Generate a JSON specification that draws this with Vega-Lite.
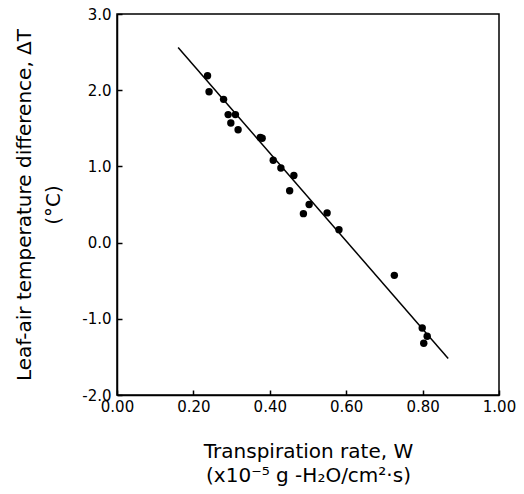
{
  "$schema": "https://vega.github.io/schema/vega-lite/v6.json",
  "autosize": {"type": "none"},
  "padding": {"left": 117, "top": 14, "right": 25, "bottom": 99},
  "width": 382,
  "height": 381,
  "background": "white",
  "config": {
    "view": {"stroke": "black", "strokeWidth": 1.5},
    "font": "DejaVu Sans",
    "axis": {
      "domainColor": "black",
      "domainWidth": 1.5,
      "tickColor": "black",
      "tickSize": -5,
      "tickWidth": 1.5,
      "grid": false,
      "labelFont": "DejaVu Sans",
      "labelFontSize": 15,
      "labelColor": "black",
      "titleFont": "DejaVu Sans",
      "titleFontSize": 20,
      "titleFontWeight": "normal",
      "titleColor": "black"
    }
  },
  "datasets": {
    "pts": [
      {"W": 0.237, "dT": 2.19},
      {"W": 0.241, "dT": 1.98},
      {"W": 0.279, "dT": 1.88},
      {"W": 0.291, "dT": 1.68},
      {"W": 0.310, "dT": 1.68},
      {"W": 0.298, "dT": 1.57},
      {"W": 0.317, "dT": 1.48},
      {"W": 0.375, "dT": 1.38},
      {"W": 0.380, "dT": 1.37},
      {"W": 0.409, "dT": 1.08},
      {"W": 0.429, "dT": 0.98},
      {"W": 0.463, "dT": 0.88},
      {"W": 0.452, "dT": 0.68},
      {"W": 0.503, "dT": 0.50},
      {"W": 0.488, "dT": 0.38},
      {"W": 0.550, "dT": 0.39},
      {"W": 0.581, "dT": 0.17},
      {"W": 0.726, "dT": -0.43},
      {"W": 0.799, "dT": -1.12},
      {"W": 0.812, "dT": -1.23},
      {"W": 0.803, "dT": -1.32}
    ],
    "fit": [
      {"W": 0.160, "dT": 2.56},
      {"W": 0.867, "dT": -1.52}
    ]
  },
  "layer": [
    {
      "data": {"name": "fit"},
      "mark": {"type": "line", "color": "black", "strokeWidth": 1.5},
      "encoding": {
        "x": {"field": "W", "type": "quantitative"},
        "y": {"field": "dT", "type": "quantitative"}
      }
    },
    {
      "data": {"name": "pts"},
      "mark": {"type": "point", "filled": true, "color": "black", "opacity": 1, "size": 55},
      "encoding": {
        "x": {
          "field": "W",
          "type": "quantitative",
          "scale": {"domain": [0, 1], "nice": false, "zero": false},
          "axis": {
            "values": [0, 0.2, 0.4, 0.6, 0.8, 1.0],
            "format": ".2f",
            "labelPadding": 9,
            "labelFlush": false,
            "titlePadding": 27,
            "titleLineHeight": 24,
            "title": ["Transpiration rate, W", "(x10⁻⁵ g -H₂O/cm²·s)"]
          }
        },
        "y": {
          "field": "dT",
          "type": "quantitative",
          "scale": {"domain": [-2, 3], "nice": false, "zero": false},
          "axis": {
            "values": [-2, -1, 0, 1, 2, 3],
            "format": ".1f",
            "labelExpr": "replace(datum.label, '−', '-')",
            "labelPadding": 11,
            "labelFlush": false,
            "titlePadding": 18,
            "titleLineHeight": 29,
            "title": ["Leaf-air temperature difference, ΔT", "(°C)"]
          }
        }
      }
    }
  ]
}
